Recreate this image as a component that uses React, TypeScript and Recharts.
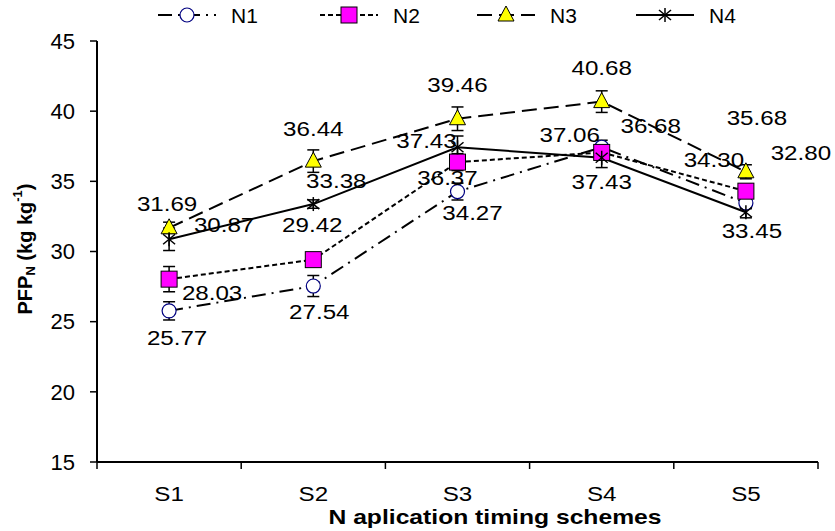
import React from 'react';
import { LineChart, Line, XAxis, YAxis, ErrorBar, LabelList } from 'recharts';

const schemes = ['S1', 'S2', 'S3', 'S4', 'S5'];
const n1 = [25.77, 27.54, 34.27, 37.43, 33.45];
const n2 = [28.03, 29.42, 36.37, 37.06, 34.3];
const n3 = [31.69, 36.44, 39.46, 40.68, 35.68];
const n4 = [30.87, 33.38, 37.43, 36.68, 32.8];
const n1Err = [0.65, 0.75, 0.6, 0.5, 0.4];
const n2Err = [0.9, 0.4, 0.6, 0.5, 0.5];
const n3Err = [0.4, 0.8, 0.84, 0.77, 0.5];
const n4Err = [0.8, 0.3, 0.8, 0.7, 0.4];
const yTicks = [15, 20, 25, 30, 35, 40, 45];

const data = schemes.map((s, i) => ({
  x: i + 1,
  name: s,
  N1: n1[i],
  N1e: n1Err[i],
  N2: n2[i],
  N2e: n2Err[i],
  N3: n3[i],
  N3e: n3Err[i],
  N4: n4[i],
  N4e: n4Err[i],
}));

// ticks at category centres (labels) and at boundaries (tick marks)
const xTicks: number[] = [0.5];
schemes.forEach((_, i) => xTicks.push(i + 1, i + 1.5));

const FONT = '"Liberation Sans", Arial, sans-serif';

// label offsets from each point, hand placed like the original
const labelShift: Record<string, number[][]> = {
  N1: [[8, 27], [6, 25], [15, 21], [0, 34], [6, 27]],
  N2: [[43, 13], [-1, -35], [-10, 15], [-32, -18], [-32, -32]],
  N3: [[-2, -24], [0, -33], [0, -34], [0, -34], [11, -54]],
  N4: [[55, -15], [23, -24], [-31, -7], [49, -32], [55, -60]],
};

const series = [
  { key: 'N1', dash: '14 6 2 6', marker: 'circle' },
  { key: 'N2', dash: '5 3', marker: 'square' },
  { key: 'N3', dash: '15 7', marker: 'triangle' },
  { key: 'N4', dash: undefined, marker: 'star' },
];

function Marker({ kind, cx, cy }: { kind: string; cx: number; cy: number }) {
  if (kind === 'circle')
    return <circle cx={cx} cy={cy} r={7} fill="#fff" stroke="#000080" strokeWidth={1.2} />;
  if (kind === 'square')
    return <rect x={cx - 8} y={cy - 8} width={16} height={16} fill="#FF00FF" stroke="#000" strokeWidth={1} />;
  if (kind === 'triangle')
    return (
      <polygon
        points={`${cx},${cy - 9} ${cx + 8},${cy + 6} ${cx - 8},${cy + 6}`}
        fill="#FFFF00"
        stroke="#000"
        strokeWidth={1}
      />
    );
  return (
    <g stroke="#000" strokeWidth={1.5}>
      <line x1={cx} y1={cy - 7} x2={cx} y2={cy + 7} />
      <line x1={cx - 6} y1={cy - 5} x2={cx + 6} y2={cy + 5} />
      <line x1={cx - 6} y1={cy + 5} x2={cx + 6} y2={cy - 5} />
    </g>
  );
}

// the original's text is a little wider than Arial, so stretch it sideways
function WideText({ x, y, size, children }: { x: number; y: number; size: number; children: React.ReactNode }) {
  return (
    <text
      transform={`translate(${x} ${y}) scale(1.15 1)`}
      dy="0.36em"
      textAnchor="middle"
      fontSize={size}
      fontFamily={FONT}
      fill="#000"
    >
      {children}
    </text>
  );
}

function XTick(props: any) {
  const { x, y, payload } = props;
  const v = payload.value;
  if (Number.isInteger(v)) {
    return (
      <WideText x={x} y={y + 31} size={21}>
        {schemes[v - 1]}
      </WideText>
    );
  }
  return <line x1={x} x2={x} y1={y} y2={y + 7} stroke="#000" strokeWidth={1.5} />;
}

function XTitle() {
  return (
    <text
      x={495}
      y={516}
      dy="0.36em"
      textAnchor="middle"
      fontSize={21}
      fontWeight="bold"
      fontFamily={FONT}
      fill="#000"
      textLength={333}
      lengthAdjust="spacingAndGlyphs"
    >
      N aplication timing schemes
    </text>
  );
}

function YLabel() {
  const cx = 25;
  const cy = 249;
  return (
    <text
      x={cx}
      y={cy}
      transform={`rotate(-90, ${cx}, ${cy})`}
      textAnchor="middle"
      dominantBaseline="central"
      fontSize={20}
      fontWeight="bold"
      fontFamily={FONT}
      fill="#000"
    >
      PFP
      <tspan fontSize={13} dy={5}>N</tspan>
      <tspan dy={-5}> (kg kg</tspan>
      <tspan fontSize={13} dy={-8}>-1</tspan>
      <tspan dy={8}>)</tspan>
    </text>
  );
}

function makeLabel(key: string) {
  return (props: any) => {
    const { x, y, value, index } = props;
    const [dx, dy] = labelShift[key][index];
    return (
      <WideText x={x + dx} y={y + dy} size={21}>
        {Number(value).toFixed(2)}
      </WideText>
    );
  };
}

function LegendBar() {
  const starts = [158, 320, 477, 636];
  return (
    <svg width={835} height={32} style={{ position: 'absolute', left: 0, top: 0 }}>
      {series.map((s, i) => {
        const x0 = starts[i];
        return (
          <g key={s.key}>
            <line x1={x0} y1={15} x2={x0 + 58} y2={15} stroke="#000" strokeWidth={2} strokeDasharray={s.dash} />
            <Marker kind={s.marker} cx={x0 + 29} cy={15} />
            <text x={x0 + 73} y={15} dy="0.36em" fontSize={21} fontFamily={FONT} fill="#000">
              {s.key}
            </text>
          </g>
        );
      })}
    </svg>
  );
}

export default function App() {
  return (
    <div style={{ position: 'absolute', left: 0, top: 0, width: 835, height: 531, background: '#fff' }}>
      <LineChart width={835} height={531} data={data} margin={{ top: 41, right: 17, bottom: 0, left: 0 }}>
        <XAxis
          dataKey="x"
          type="number"
          domain={[0.5, 5.5]}
          ticks={xTicks}
          interval={0}
          tickLine={false}
          tickSize={0}
          tickMargin={0}
          height={69}
          tick={<XTick />}
          axisLine={{ stroke: '#000', strokeWidth: 2 }}
          label={<XTitle />}
        />
        <YAxis
          type="number"
          domain={[15, 45]}
          ticks={yTicks}
          interval={0}
          width={97}
          tickSize={7}
          tickMargin={15}
          axisLine={{ stroke: '#000', strokeWidth: 2 }}
          tickLine={{ stroke: '#000', strokeWidth: 1.5 }}
          tick={{ fontSize: 22, fontFamily: FONT, fill: '#000' }}
          label={<YLabel />}
        />
        {series.map((s) => (
          <Line
            key={s.key}
            dataKey={s.key}
            type="linear"
            stroke="#000"
            strokeWidth={2}
            strokeDasharray={s.dash}
            isAnimationActive={false}
            dot={(p: any) => <Marker key={`${s.key}-${p.index}`} kind={s.marker} cx={p.cx} cy={p.cy} />}
            activeDot={false}
          >
            <ErrorBar dataKey={`${s.key}e`} direction="y" width={6} stroke="#000" strokeWidth={1.5} />
            <LabelList dataKey={s.key} content={makeLabel(s.key)} />
          </Line>
        ))}
      </LineChart>
      <LegendBar />
    </div>
  );
}
